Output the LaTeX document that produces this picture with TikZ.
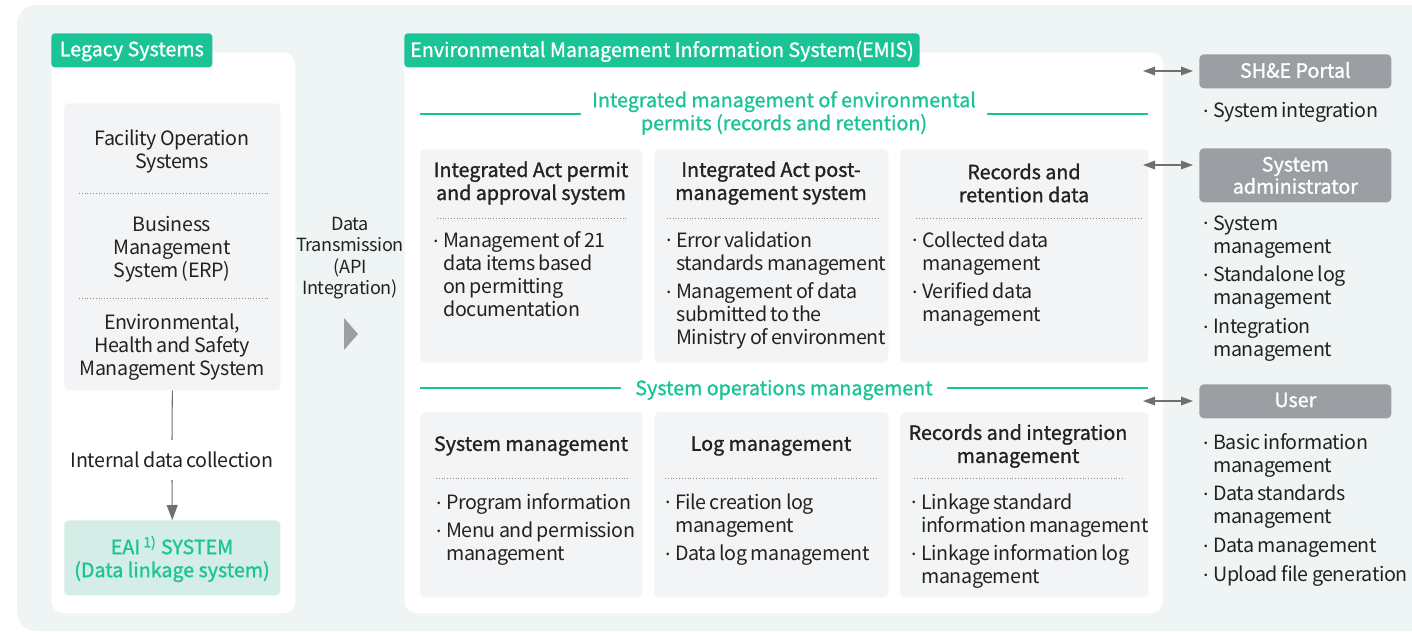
\documentclass[tikz,border=0pt]{standalone}
\usepackage{fontspec}
\setmainfont{Noto Sans CJK KR}[LetterSpace=-2,WordSpace=0.8]
\newfontfamily\medfont{Noto Sans CJK KR}[FakeBold=1.2]
\usetikzlibrary{arrows.meta}

\definecolor{emisgreen}{RGB}{27,196,150}
\definecolor{bgmint}{RGB}{239,244,244}
\definecolor{boxgray}{RGB}{243,244,246}
\definecolor{eaifill}{RGB}{212,237,230}
\definecolor{tabgray}{RGB}{155,158,163}
\definecolor{inkgray}{RGB}{112,112,112}
\definecolor{textdark}{RGB}{34,34,34}

\newcommand{\dt}{\makebox[0.5em][l]{\hspace{0.03em}\raisebox{0.26em}{.}}}
\newcommand{\ind}{\hphantom{\dt}}
\newcommand{\gap}{\\[3.2pt]}

\begin{document}
\begin{tikzpicture}[x=0.02cm,y=-0.02cm,font=\fontsize{11.2}{13.1}\selectfont,text=textdark]
	\tikzstyle{panel}=[fill=white,rounded corners=7pt,anchor=north west,inner sep=0pt]
	\tikzstyle{tab}=[fill=emisgreen,rounded corners=2pt,anchor=north west,text=white,font=\medfont\fontsize{11.2}{13.1}\selectfont]
	\tikzstyle{card}=[fill=boxgray,rounded corners=2.5pt,anchor=north west,inner sep=0pt]
	\tikzstyle{role}=[fill=tabgray,rounded corners=2.5pt,anchor=north west,text=white,align=center,font=\medfont\fontsize{11.2}{12.6}\selectfont]
	\tikzstyle{title}=[align=center,inner sep=0pt,font=\medfont\fontsize{11.2}{13.1}\selectfont]
	\tikzstyle{items}=[align=left,anchor=north west,inner sep=0pt]
	\tikzstyle{head}=[align=center,text=emisgreen,fill=white,inner ysep=0pt,font=\medfont\fontsize{11.2}{13.1}\selectfont]
	\tikzstyle{rule}=[draw=emisgreen,line width=0.6pt]
	\tikzstyle{dots}=[draw=black!45,line width=0.5pt,dash pattern=on 0.5pt off 1.1pt]
	\tikzstyle{flow}=[draw=inkgray,line width=0.6pt]
	\tikzstyle{biarrow}=[draw=inkgray,line width=0.9pt,{Triangle[length=0.24cm,width=0.17cm]}-{Triangle[length=0.24cm,width=0.17cm]}]

	\useasboundingbox (0,0) rectangle (1412,633);
	\fill[bgmint,rounded corners=11pt] (17,5) rectangle (1440,631);

	% Legacy systems side
	\node[panel,minimum width=4.88cm,minimum height=11.22cm] (legacy) at (51,52) {};
	\node[tab,minimum width=3.22cm,minimum height=0.68cm,text depth=0.3ex] (legacytab) at (51,33) {Legacy Systems};
	\node[card,minimum width=4.32cm,minimum height=5.74cm] (srcbox) at (64,103) {};
	\node[align=center] (fac) at (172,151) {Facility Operation\\Systems};
	\node[align=center] (erp) at (172,249) {Business\\Management\\System (ERP)};
	\node[align=center] (ehs) at (172,347) {Environmental,\\Health and Safety\\Management System};
	\draw[dots] (79,193) -- (268,193);
	\draw[dots] (79,298) -- (268,298);

	\node[minimum height=0.78cm,inner ysep=0pt] (collect) at (172,460) {Internal data collection};
	\node[card,fill=eaifill,minimum width=4.32cm,minimum height=1.5cm] (eai) at (64,520) {};
	\node[title,text=emisgreen] (eaitext) at (172,559) {EAI\,\textsuperscript{1)} SYSTEM\\(Data linkage system)};

	\draw[flow] (srcbox.south) -- (collect.north);
	\draw[flow,-{Triangle[length=0.3cm,width=0.22cm]}] (collect.south) -- (eai.north);

	% Data transmission
	\node[align=center,font=\fontsize{10.3}{12.2}\selectfont] (xfer) at (350,258) {Data\\Transmission\\(API\\Integration)};
	\fill[tabgray] (344,318) -- (358,334) -- (344,350) -- cycle;

	% EMIS
	\node[panel,minimum width=15.18cm,minimum height=11.22cm] (emis) at (404,52) {};
	\node[tab,minimum width=10.3cm,minimum height=0.68cm,text depth=0.3ex] (emistab) at (404,33) {Environmental Management Information System(EMIS)};

	\node[head,inner xsep=0.22cm] (permhead) at (784,113) {Integrated management of environmental\\permits (records and retention)};
	\coordinate (pl) at (420,114);
	\coordinate (pr) at (1148,114);
	\draw[rule] (pl) -- (pl -| permhead.west);
	\draw[rule] (pr -| permhead.east) -- (pr);

	\node[card,minimum width=4.44cm,minimum height=4.26cm] (permit) at (420,149) {};
	\node[card,minimum width=4.68cm,minimum height=4.26cm] (postmgmt) at (654,149) {};
	\node[card,minimum width=4.96cm,minimum height=4.26cm] (records) at (900,149) {};

	\node[title] (permitt) at (531,183) {Integrated Act permit\\and approval system};
	\node[title] (postmgmtt) at (771,183) {Integrated Act post-\\management system};
	\node[title] (recordst) at (1024,183) {Records and\\retention data};
	\draw[dots] (437,218) -- (628,218);
	\draw[dots] (667,218) -- (880,218);
	\draw[dots] (916,218) -- (1142,218);

	\node[items] (permiti) at (433,231) {\dt Management of 21\\\ind data items based\\\ind on permitting\\\ind documentation};
	\node[items] (postmgmti) at (666,231) {\dt Error validation\\\ind standards management\gap\dt Management of data\\\ind submitted to the\\\ind Ministry of environment};
	\node[items] (recordsi) at (912,231) {\dt Collected data\\\ind management\gap\dt Verified data\\\ind management};

	\node[head,inner xsep=0.28cm] (opshead) at (784,390) {System operations management};
	\coordinate (ol) at (420,388);
	\coordinate (or) at (1148,388);
	\draw[rule] (ol) -- (ol -| opshead.west);
	\draw[rule] (or -| opshead.east) -- (or);

	\node[card,minimum width=4.44cm,minimum height=3.7cm] (sysmgmt) at (420,412) {};
	\node[card,minimum width=4.68cm,minimum height=3.7cm] (logmgmt) at (654,412) {};
	\node[card,minimum width=4.96cm,minimum height=3.7cm] (linkmgmt) at (900,412) {};

	\node[title] (sysmgmtt) at (531,446) {System management};
	\node[title] (logmgmtt) at (771,446) {Log management};
	\node[title] (linkmgmtt) at (1018,446) {Records and integration\\management};
	\draw[dots] (436,478) -- (629,478);
	\draw[dots] (665,478) -- (878,478);
	\draw[dots] (914,478) -- (1124,478);

	\node[items] (sysmgmti) at (436,493) {\dt Program information\gap\dt Menu and permission\\\ind management};
	\node[items] (logmgmti) at (665,493) {\dt File creation log\\\ind management\gap\dt Data log management};
	\node[items] (linkmgmti) at (911,493) {\dt Linkage standard\\\ind information management\gap\dt Linkage information log\\\ind management};

	% Users and portals
	\node[role,minimum width=3.84cm,minimum height=0.68cm,text depth=0.3ex] (portal) at (1199,54) {SH\&E Portal};
	\node[role,minimum width=3.84cm,minimum height=1.08cm] (admin) at (1199,148) {System\\administrator};
	\node[role,minimum width=3.84cm,minimum height=0.68cm,text depth=0.3ex] (user) at (1199,384) {User};

	\coordinate (pa) at (1143,71);
	\coordinate (pb) at (1143,165);
	\coordinate (pc) at (1143,401);
	\draw[biarrow,shorten >=0.12cm] (pa) -- (pa -| portal.west);
	\draw[biarrow,shorten >=0.12cm] (pb) -- (pb -| admin.west);
	\draw[biarrow,shorten >=0.12cm] (pc) -- (pc -| user.west);

	\node[items] (portali) at (1203,102) {\dt System integration};
	\node[items] (admini) at (1203,215) {\dt System\\\ind management\gap\dt Standalone log\\\ind management\gap\dt Integration\\\ind management};
	\node[items] (useri) at (1203,433) {\dt Basic information\\\ind management\gap\dt Data standards\\\ind management\gap\dt Data management\gap\dt Upload file generation};
\end{tikzpicture}
\end{document}
